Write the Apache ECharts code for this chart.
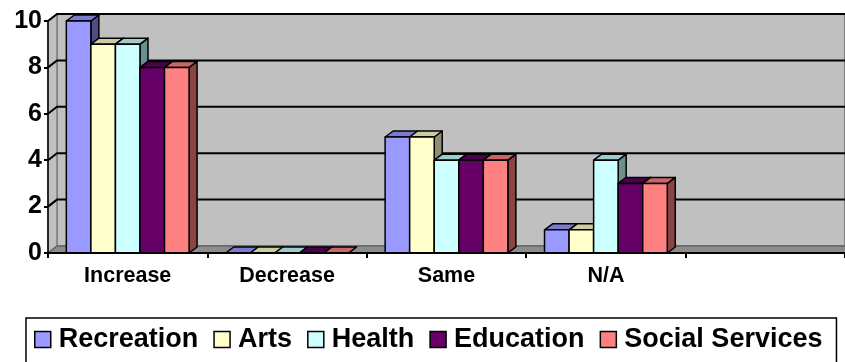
<!DOCTYPE html>
<html>
<head>
<meta charset="utf-8">
<script src="https://cdn.jsdelivr.net/npm/echarts@6/dist/echarts.min.js"></script>
<style>
  html, body { margin: 0; padding: 0; background: #fff; }
  #chart { width: 845px; height: 362px; }
</style>
</head>
<body>
<div id="chart"></div>
<script>
// Survey responses by sector
const categories = ['Increase', 'Decrease', 'Same', 'N/A', ''];
const seriesNames = ['Recreation', 'Arts', 'Health', 'Education', 'Social Services'];
const recreation = [10, 0, 5, 1];
const arts = [9, 0, 5, 1];
const health = [9, 0, 4, 4];
const education = [8, 0, 4, 3];
const socialServices = [8, 0, 4, 3];
const yTicks = [0, 2, 4, 6, 8, 10];

// face colours: front, top, side
const palette = [
  ['#9999FF', '#7A7AD0', '#4D4D88'],
  ['#FFFFCC', '#CCCC9E', '#8F8F70'],
  ['#CCFFFF', '#9ECCCC', '#6B8F8F'],
  ['#660066', '#4D004D', '#3A003A'],
  ['#FF8080', '#CC6666', '#8A4444']
];
const seriesValues = [recreation, arts, health, education, socialServices];

const FONT = '"Liberation Sans", Arial, sans-serif';
const BAR_RATIO = 0.154;   // width of one bar as a share of the category band
const DEPTH = [8, -6];     // bar depth offset
const WALL = [9, -7];      // back wall offset

function barRenderer(idx) {
  const [front, top, side] = palette[idx];
  return function (params, api) {
    const c = api.value(0);
    const v = api.value(1);
    const base = api.coord([c, 0]);
    const tip = api.coord([c, v]);
    const w = api.size([1, 0])[0] * BAR_RATIO;
    const x = base[0] + (idx - 2.5) * w;
    const yb = base[1];
    const yt = tip[1];
    const dx = DEPTH[0], dy = DEPTH[1];
    const stroke = { stroke: '#000', lineWidth: 1.5, lineJoin: 'round' };
    return {
      type: 'group',
      children: [
        {
          type: 'polygon',
          shape: { points: [[x + w, yt], [x + w + dx, yt + dy], [x + w + dx, yb + dy], [x + w, yb]] },
          style: Object.assign({ fill: side }, stroke)
        },
        {
          type: 'polygon',
          shape: { points: [[x, yt], [x + w, yt], [x + w + dx, yt + dy], [x + dx, yt + dy]] },
          style: Object.assign({ fill: top }, stroke)
        },
        {
          type: 'rect',
          shape: { x: x, y: yt, width: w, height: yb - yt },
          style: Object.assign({ fill: front }, stroke)
        }
      ]
    };
  };
}

// back wall, side wall, floor and gridlines of the 3-D frame
function renderWalls(params, api) {
  const cs = params.coordSys;
  const x0 = cs.x, x1 = cs.x + cs.width;
  const yTop = api.coord([0, yTicks[yTicks.length - 1]])[1];
  const yBot = api.coord([0, 0])[1];
  const dx = WALL[0], dy = WALL[1];
  const children = [
    {
      type: 'rect',
      shape: { x: x0 + dx, y: yTop + dy, width: x1 - x0 - dx, height: yBot - yTop },
      style: { fill: '#C0C0C0', stroke: '#808080', lineWidth: 2 }
    },
    {
      type: 'polygon',
      shape: { points: [[x0, yBot], [x0, yTop], [x0 + dx, yTop + dy], [x0 + dx, yBot + dy]] },
      style: { fill: '#C0C0C0', stroke: '#808080', lineWidth: 1.5 }
    },
    {
      type: 'polygon',
      shape: { points: [[x0, yBot], [x1 + dx, yBot], [x1 + dx, yBot + dy], [x0 + dx, yBot + dy]] },
      style: { fill: '#8C8C8C', stroke: '#666666', lineWidth: 1.5 }
    }
  ];
  yTicks.forEach(function (t) {
    if (t === 0) return;
    const y = api.coord([0, t])[1];
    children.push({
      type: 'polyline',
      shape: { points: [[x0, y], [x0 + dx, y + dy], [x1 + dx, y + dy]] },
      style: { stroke: '#000', lineWidth: 2, fill: null }
    });
  });
  return { type: 'group', children: children };
}

const chart = echarts.init(document.getElementById('chart'));

const series = [{
  type: 'custom',
  name: '_frame',
  silent: true,
  z: 1,
  data: [[0, 0]],
  renderItem: renderWalls
}];

seriesNames.forEach(function (name, i) {
  series.push({
    type: 'custom',
    name: name,
    z: 2,
    color: palette[i][0],
    itemStyle: { color: palette[i][0], borderColor: '#000', borderWidth: 1.5 },
    data: seriesValues[i].map(function (v, c) { return [c, v]; }),
    encode: { x: 0, y: 1 },
    renderItem: barRenderer(i)
  });
});

chart.setOption({
  animation: false,
  backgroundColor: '#fff',
  grid: { left: 48, right: -3, top: 21, bottom: 109, containLabel: false },
  xAxis: {
    type: 'category',
    data: categories,
    z: 5,
    axisLine: { show: true, lineStyle: { color: '#000', width: 2 } },
    axisTick: { show: true, length: 5, lineStyle: { color: '#000', width: 2 } },
    axisLabel: { color: '#000', fontFamily: FONT, fontWeight: 'bold', fontSize: 21.5, margin: 12 },
    splitLine: { show: false }
  },
  yAxis: {
    type: 'value',
    min: 0,
    max: 10,
    interval: 2,
    z: 5,
    axisLine: { show: true, lineStyle: { color: '#000', width: 1.5 } },
    axisTick: { show: true, length: 4, lineStyle: { color: '#000', width: 2 } },
    axisLabel: { color: '#000', fontFamily: FONT, fontWeight: 'bold', fontSize: 25, margin: 6 },
    splitLine: { show: false }
  },
  legend: {
    left: 26,
    top: 318,
    orient: 'horizontal',
    padding: [8, 14, 20, 8],
    borderColor: '#000',
    borderWidth: 1.5,
    itemWidth: 16,
    itemHeight: 16,
    itemGap: 15,
    icon: 'rect',
    textStyle: { color: '#000', fontFamily: FONT, fontWeight: 'bold', fontSize: 27, padding: [0, 0, 0, 3] },
    data: seriesNames.map(function (n, i) {
      return { name: n, itemStyle: { color: palette[i][0], borderColor: '#000', borderWidth: 1.5 } };
    })
  },
  series: series
});
</script>
</body>
</html>
